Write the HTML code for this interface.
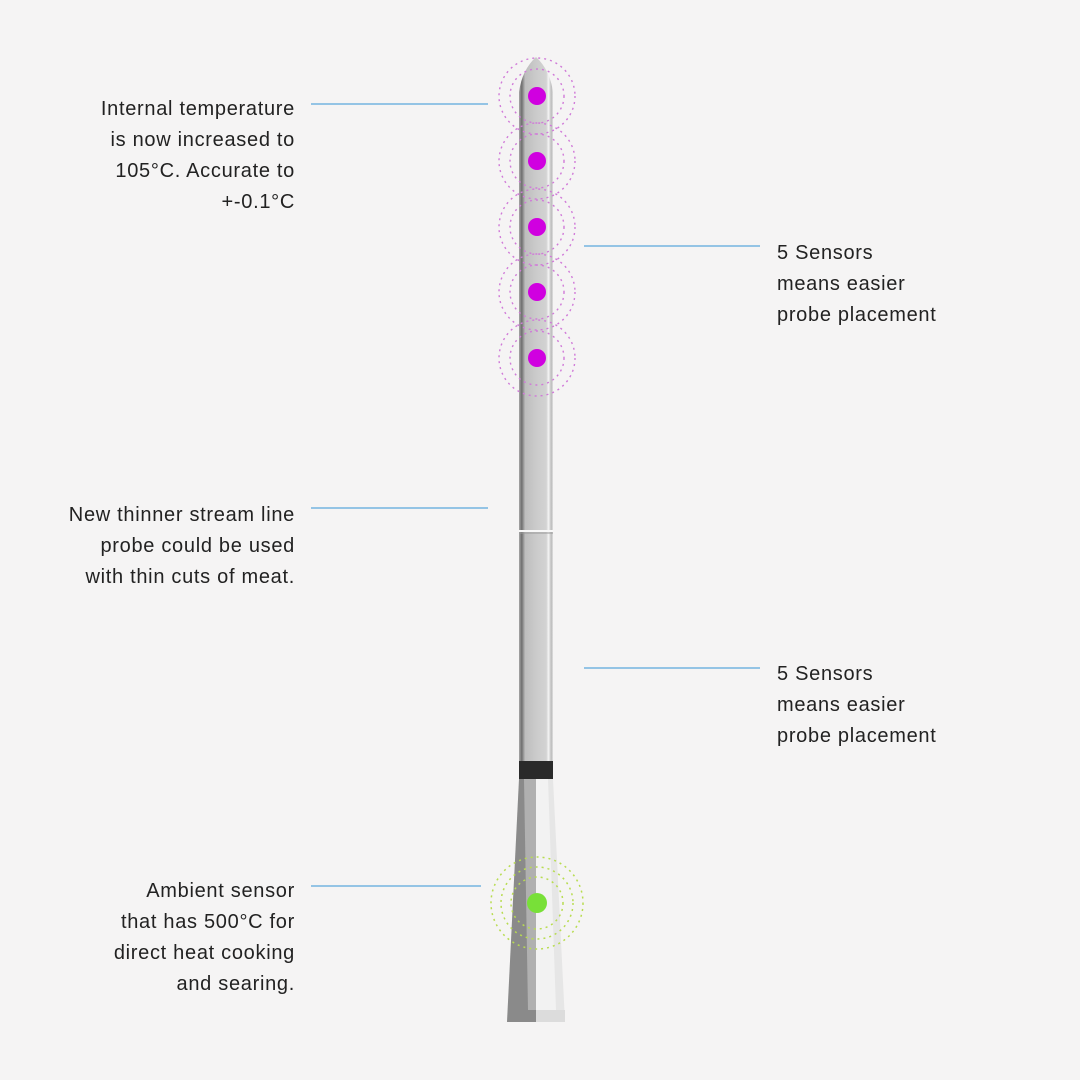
<!DOCTYPE html>
<html><head><meta charset="utf-8"><style>
body{margin:0;background:#f5f4f4;}
.t{position:absolute;font-family:"Liberation Sans",Arial,sans-serif;font-size:20px;letter-spacing:0.7px;line-height:31px;color:#222;}
.l{text-align:right;right:785px;}
.r{left:777px;}
</style></head><body>
<div style="position:relative;width:1080px;height:1080px;overflow:hidden">
<svg width="1080" height="1080" style="position:absolute;left:0;top:0">
<defs>
<linearGradient id="sh" x1="0" x2="1">
<stop offset="0" stop-color="#a8a8a8"/><stop offset="0.08" stop-color="#6e6e6e"/><stop offset="0.18" stop-color="#bdbdbd"/><stop offset="0.5" stop-color="#cbcbcb"/><stop offset="0.8" stop-color="#d2d2d2"/><stop offset="0.87" stop-color="#f4f4f4"/><stop offset="0.95" stop-color="#bcbcbc"/><stop offset="1" stop-color="#e0e0e0"/>
</linearGradient>
</defs>
<g stroke="#5aa8dc" stroke-width="1.3">
<line x1="311" y1="104" x2="488" y2="104"/>
<line x1="584" y1="246" x2="760" y2="246"/>
<line x1="311" y1="508" x2="488" y2="508"/>
<line x1="584" y1="668" x2="760" y2="668"/>
<line x1="311" y1="886" x2="481" y2="886"/>
</g>
<polygon points="519,779 553,779 565,1022 507,1022" fill="#e6e6e6"/>
<polygon points="519,779 536,779 536,1022 507,1022" fill="#8a8a8a"/>
<polygon points="524,779 536,779 536,1010 528,1010" fill="#b0b0b0"/>
<polygon points="536,779 548,779 556,1010 536,1010" fill="#f2f2f2"/>
<rect x="536" y="1010" width="29" height="12" fill="#dcdcdc"/>
<path d="M519,779 L519,92 Q522,70 536,57 Q550,70 553,92 L553,779 Z" fill="url(#sh)"/>
<line x1="519" y1="531" x2="553" y2="531" stroke="#f8f8f8" stroke-width="2"/>
<line x1="519" y1="533" x2="553" y2="533" stroke="#999" stroke-width="1"/>
<rect x="519" y="761" width="34" height="18" fill="#2a2a2a"/>
<g fill="none" stroke="#d07ad8" stroke-width="1.4" stroke-dasharray="2 4">
<circle cx="537" cy="96" r="38"/><circle cx="537" cy="96" r="27"/>
<circle cx="537" cy="161" r="38"/><circle cx="537" cy="161" r="27"/>
<circle cx="537" cy="227" r="38"/><circle cx="537" cy="227" r="27"/>
<circle cx="537" cy="292" r="38"/><circle cx="537" cy="292" r="27"/>
<circle cx="537" cy="358" r="38"/><circle cx="537" cy="358" r="27"/>
</g>
<g fill="#d000e0">
<circle cx="537" cy="96" r="9"/><circle cx="537" cy="161" r="9"/><circle cx="537" cy="227" r="9"/><circle cx="537" cy="292" r="9"/><circle cx="537" cy="358" r="9"/>
</g>
<g fill="none" stroke="#b8dc50" stroke-width="1.5" stroke-dasharray="2 4">
<circle cx="537" cy="903" r="46"/><circle cx="537" cy="903" r="36"/><circle cx="537" cy="903" r="26"/>
</g>
<circle cx="537" cy="903" r="10" fill="#78e038"/>
</svg>
<div class="t l" style="top:94px">Internal temperature<br>is now increased to<br>105°C. Accurate to<br>+-0.1°C</div>
<div class="t r" style="top:238px">5 Sensors<br>means easier<br>probe placement</div>
<div class="t l" style="top:500px">New thinner stream line<br>probe could be used<br>with thin cuts of meat.</div>
<div class="t r" style="top:659px">5 Sensors<br>means easier<br>probe placement</div>
<div class="t l" style="top:876px">Ambient sensor<br>that has 500°C for<br>direct heat cooking<br>and searing.</div>
</div>
</body></html>
